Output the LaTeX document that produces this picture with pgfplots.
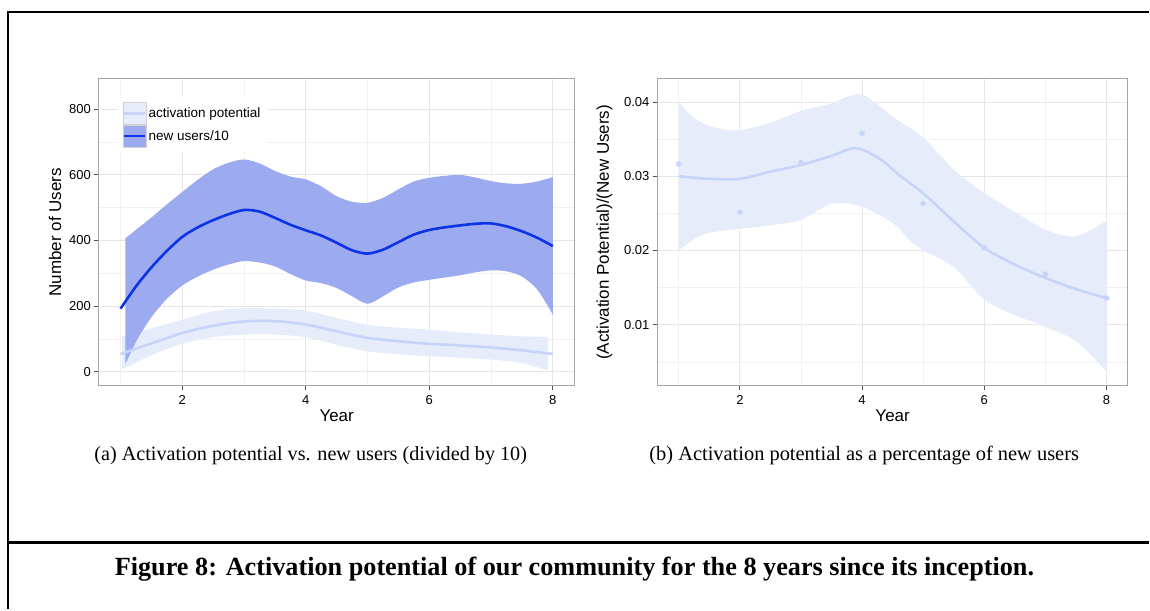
\documentclass[border=0pt]{standalone}
\usepackage{fontspec}
\setmainfont{Liberation Serif}
\setsansfont{Liberation Sans}
\usepackage{graphicx}
\usepackage{pgfplots}
\pgfplotsset{compat=1.18}
\usepgfplotslibrary{fillbetween}

\definecolor{darkline}{RGB}{12,52,230}
\definecolor{darkfill}{RGB}{156,170,240}
\definecolor{lightline}{RGB}{198,212,250}
\definecolor{lightfill}{RGB}{231,236,250}
\definecolor{ptc}{RGB}{200,212,250}
\definecolor{framec}{RGB}{165,165,165}
\definecolor{gridmaj}{RGB}{230,230,230}
\definecolor{gridmin}{RGB}{241,241,241}
\definecolor{tickc}{RGB}{80,80,80}

\pgfplotsset{ggbw/.style={
  scale only axis, anchor=north west,
  xmin=0.65, xmax=8.35,
  axis line style={draw=framec, line width=0.9pt},
  grid=both,
  major grid style={draw=gridmaj, line width=0.9pt},
  minor grid style={draw=gridmin, line width=0.7pt},
  tick align=outside, xtick pos=left, ytick pos=left,
  major tick length=4.5pt, minor tick length=0pt,
  tick style={draw=tickc, line width=0.9pt},
  xtick={2,4,6,8}, minor xtick={1,3,5,7},
  xticklabels={2,4,6,8},
  scaled x ticks=false, scaled y ticks=false,
  tick label style={font=\fontsize{13}{13}\sffamily\selectfont, text=black},
  xticklabel style={yshift=-2pt},
  label style={font=\fontsize{17}{18}\sffamily\selectfont, text=black},
  xlabel={Year},
  xlabel style={at={(axis description cs:0.5,-0.098)}, anchor=center},
}}

\begin{document}
\begin{tikzpicture}
\path (0,0) rectangle (1150pt,-610pt);
\draw[line width=2pt] (1150pt,-12pt) -- (8pt,-12pt) -- (8pt,-610pt);
\draw[line width=2.2pt] (8pt,-543pt) -- (1150pt,-543pt);

\begin{axis}[ggbw, at={(99pt,-79pt)}, width=476pt, height=307pt,
  ymin=-42.5, ymax=892.5,
  ytick={0,200,400,600,800}, yticklabels={0,200,400,600,800},
  minor ytick={100,300,500,700},
  ylabel={Number of Users},
  ylabel style={at={(axis description cs:-0.0924,0.5)}, anchor=center},
  legend style={at={(axis description cs:0.04,0.941)}, anchor=north west,
    draw=none, fill=white, inner xsep=5pt, inner ysep=5pt, row sep=0pt,
    font=\fontsize{13.5}{14}\sffamily\selectfont},
  legend cell align=left,
]
% activation potential ribbon
\addplot[name path=lu, draw=none, smooth, forget plot] coordinates {
(1.02,108) (1.5,132) (2.0,159) (2.5,184) (3.0,194) (3.5,192) (4.0,186) (4.5,164) (5.0,143) (5.5,134) (6.0,128) (6.5,120) (7.0,113) (7.5,108) (7.92,106)};
\addplot[name path=ll, draw=none, smooth, forget plot] coordinates {
(1.02,8) (1.1,14) (1.5,50) (2.0,85) (2.5,105) (3.0,113) (3.5,113) (4.0,105) (4.5,82) (5.0,62) (5.5,53) (6.0,47) (6.5,42) (7.0,37) (7.5,26) (7.92,4)};
\addplot[fill=lightfill, draw=none, forget plot] fill between[of=lu and ll];
% new users ribbon
\addplot[name path=du, draw=none, smooth, forget plot] coordinates {
(1.08,407) (1.3,440) (1.5,470) (1.75,510) (2.0,548) (2.25,585) (2.5,617) (2.75,637) (3.0,647) (3.25,635) (3.5,612) (3.75,595) (4.0,586) (4.25,565) (4.5,535) (4.75,518) (5.0,515) (5.25,530) (5.5,556) (5.75,580) (6.0,591) (6.25,597) (6.5,600) (6.75,592) (7.0,581) (7.25,574) (7.5,573) (7.75,580) (8.0,593)};
\addplot[name path=dl, draw=none, smooth, forget plot] coordinates {
(1.08,24) (1.17,60) (1.27,98) (1.4,138) (1.53,174) (1.75,222) (2.0,263) (2.25,290) (2.5,311) (2.75,327) (3.0,337) (3.25,333) (3.5,321) (3.75,298) (4.0,278) (4.25,270) (4.5,255) (4.75,230) (5.0,207) (5.25,230) (5.5,257) (5.75,272) (6.0,280) (6.25,287) (6.5,294) (6.75,303) (7.0,309) (7.25,306) (7.5,290) (7.75,250) (8.0,174)};
\addplot[fill=darkfill, draw=none, forget plot] fill between[of=du and dl];
% lines
\addplot[lightline, line width=2.6pt, smooth, forget plot] coordinates {
(1.0,54) (1.5,86) (2.0,118) (2.5,140) (3.0,153) (3.5,154) (4.0,144) (4.5,123) (5.0,103) (5.5,93) (6.0,85) (6.5,80) (7.0,74) (7.5,65) (8.0,54)};
\addplot[darkline, line width=2.6pt, smooth, forget plot] coordinates {
(1.0,192) (1.25,260) (1.5,318) (1.75,368) (2.0,411) (2.25,440) (2.5,462) (2.75,480) (3.0,493) (3.25,488) (3.5,469) (3.75,448) (4.0,431) (4.25,415) (4.5,393) (4.75,370) (5.0,360) (5.25,372) (5.5,395) (5.75,418) (6.0,432) (6.25,440) (6.5,446) (6.75,451) (7.0,452) (7.25,443) (7.5,428) (7.75,408) (8.0,383)};
% legend
\addlegendimage{legend image code/.code={
  \draw[draw=black!18, fill=lightfill, line width=0.6pt] (0pt,-11pt) rectangle (23pt,11pt);
  \draw[lightline, line width=2.4pt] (1pt,0pt) -- (22pt,0pt);}}
\addlegendentry{activation potential}
\addlegendimage{legend image code/.code={
  \draw[draw=black!18, fill=darkfill, line width=0.6pt] (0pt,-11pt) rectangle (23pt,11pt);
  \draw[darkline, line width=2.4pt] (1pt,0pt) -- (22pt,0pt);}}
\addlegendentry{new users/10}
\end{axis}

\begin{axis}[ggbw, at={(658pt,-79pt)}, width=471pt, height=307pt,
  ymin=0.0018, ymax=0.0431,
  ytick={0.01,0.02,0.03,0.04}, yticklabels={0.01,0.02,0.03,0.04},
  minor ytick={0.005,0.015,0.025,0.035},
  ylabel={(Activation Potential)/(New Users)},
  ylabel style={at={(axis description cs:-0.1125,0.5)}, anchor=center},
]
\addplot[name path=ru, draw=none, smooth, forget plot] coordinates {
(1.0,0.0400) (1.25,0.0378) (1.5,0.0368) (1.75,0.0363) (2.0,0.0362) (2.5,0.0372) (3.0,0.0388) (3.5,0.0398) (3.75,0.0407) (4.0,0.0410) (4.25,0.0397) (4.5,0.0380) (5.0,0.0352) (5.5,0.0309) (6.0,0.0277) (6.5,0.0252) (7.0,0.0228) (7.5,0.0219) (8.0,0.0240)};
\addplot[name path=rl, draw=none, smooth, forget plot] coordinates {
(1.0,0.0200) (1.25,0.0215) (1.5,0.0224) (2.0,0.0229) (2.5,0.0234) (3.0,0.0241) (3.5,0.0263) (4.0,0.0259) (4.5,0.0237) (4.8,0.0212) (5.0,0.0200) (5.5,0.0178) (6.0,0.0134) (6.5,0.0113) (7.0,0.0097) (7.5,0.0078) (8.0,0.0037)};
\addplot[fill=lightfill, draw=none, forget plot] fill between[of=ru and rl];
\addplot[lightline, line width=2.6pt, smooth, forget plot] coordinates {
(1.0,0.0300) (1.5,0.02964) (2.0,0.02964) (2.5,0.03062) (3.0,0.03152) (3.5,0.03275) (3.9,0.03378) (4.3,0.03230) (4.6,0.03020) (5.0,0.02771) (5.5,0.02390) (6.0,0.02036) (6.5,0.01810) (7.0,0.01630) (7.5,0.01480) (8.0,0.01359)};
\addplot[only marks, mark=*, mark size=2.6pt, mark options={draw=ptc, fill=ptc}, forget plot] coordinates {
(1,0.03166) (2,0.02516) (3,0.03184) (4,0.03579) (5,0.02632) (6,0.02036) (7,0.01682) (8,0.01359)};
\end{axis}

\node at (311pt,-456pt) {\resizebox{433pt}{!}{(a) Activation potential vs. new users (divided by 10)}};
\node at (865pt,-456pt) {\resizebox{430pt}{!}{(b) Activation potential as a percentage of new users}};
\node at (575pt,-570pt) {\resizebox{920pt}{!}{\bfseries Figure 8: Activation potential of our community for the 8 years since its inception.}};
\end{tikzpicture}
\end{document}
